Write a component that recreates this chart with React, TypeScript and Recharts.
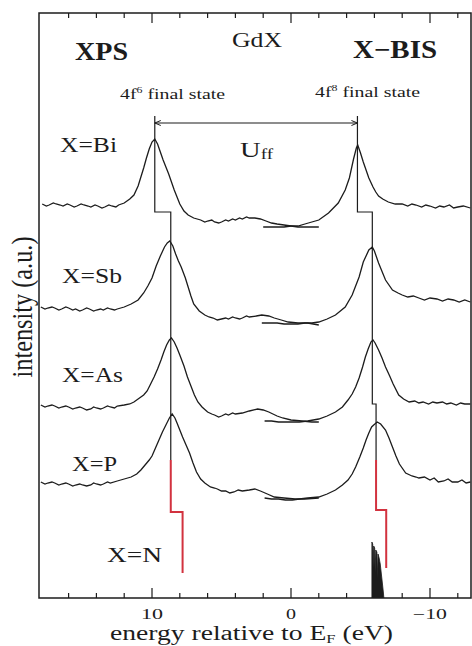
import React from "react";
import { ComposedChart, Line, Area, XAxis, YAxis, ReferenceArea } from "recharts";

type P = [number, number];

const energyDomain: [number, number] = [-12.95, 18.13];
const energyTicks = [-12, -10, -8, -6, -4, -2, 0, 2, 4, 6, 8, 10, 12, 14, 16];
const tickLabels: Record<string, string> = { "10": "10", "0": "0", "-10": "−10" };
const intensityDomain: [number, number] = [0, 585];

const biXps: P[] = [
  [17.9, 394], [17.6, 392], [17.4, 393], [17.1, 395], [16.9, 394], [16.6, 393], [16.4, 392], [16.1, 394], [15.9, 393],
  [15.6, 391], [15.4, 392], [15.1, 394], [14.9, 393], [14.6, 392], [14.4, 391], [14.1, 393], [13.9, 392], [13.6, 390],
  [13.4, 391], [13.1, 393], [12.9, 392], [12.6, 391], [12.4, 393], [12.0, 395], [11.6, 399], [11.3, 403], [11.0, 412],
  [10.8, 421], [10.6, 430], [10.4, 440], [10.2, 449], [10.0, 456], [9.8, 459], [9.6, 454], [9.4, 446],
  [9.2, 438], [9.0, 431], [8.8, 424], [8.6, 416], [8.4, 408], [8.2, 401], [8.0, 394], [7.7, 387],
  [7.4, 383], [7.0, 380], [6.5, 378], [6.2, 376], [6.0, 377], [5.7, 378], [5.5, 376], [5.2, 375], [5.0, 376],
  [4.7, 378], [4.5, 377], [4.2, 379], [4.0, 378], [3.7, 380], [3.5, 379], [3.2, 381], [3.0, 380], [2.6, 380],
  [2.2, 379], [1.8, 377], [1.4, 375], [1.0, 374], [0.5, 373], [0.0, 372], [-0.5, 371], [-1.0, 371], [-1.5, 371], [-2.0, 371],
];
const biBis: P[] = [
  [2.0, 371], [1.5, 371], [1.0, 371], [0.5, 371], [0.0, 372], [-0.5, 372], [-1.0, 374], [-1.5, 376],
  [-2.0, 378], [-2.7, 385], [-3.4, 395], [-3.9, 408], [-4.2, 420], [-4.5, 439], [-4.7, 450], [-4.8, 453],
  [-5.0, 445], [-5.2, 436], [-5.4, 428], [-5.6, 420], [-5.9, 411], [-6.1, 406], [-6.3, 402], [-6.6, 399],
  [-7.0, 396], [-7.5, 394], [-8.0, 394], [-8.4, 392], [-8.7, 394], [-9.0, 393], [-9.4, 391], [-9.7, 393],
  [-10.0, 392], [-10.4, 390], [-10.7, 392], [-11.0, 391], [-11.4, 393], [-11.7, 390], [-12.0, 391], [-12.4, 392], [-12.9, 390],
];
const sbXps: P[] = [
  [18.0, 291], [17.7, 289], [17.5, 290], [17.2, 291], [17.0, 290], [16.7, 288], [16.5, 289], [16.2, 291], [16.0, 290],
  [15.7, 288], [15.5, 289], [15.2, 287], [15.0, 288], [14.7, 290], [14.5, 289], [14.2, 287], [14.0, 288], [13.7, 289],
  [13.5, 288], [13.2, 290], [13.0, 289], [12.7, 288], [12.5, 289], [12.0, 291], [11.5, 294], [11.0, 298], [10.6, 305],
  [10.3, 312], [10.0, 320], [9.7, 332], [9.4, 342], [9.1, 351], [8.9, 355], [8.72, 357], [8.5, 352],
  [8.3, 344], [8.1, 337], [7.9, 331], [7.6, 320], [7.4, 311], [7.2, 302], [7.0, 294], [6.6, 287],
  [6.2, 283], [5.9, 281], [5.6, 280], [5.3, 278], [5.0, 279], [4.7, 280], [4.5, 279], [4.2, 281], [4.0, 280],
  [3.7, 279], [3.5, 280], [3.2, 282], [3.0, 281], [2.5, 282], [2.1, 283], [1.6, 282], [1.2, 280], [0.7, 278],
  [0.2, 276], [-0.5, 275], [-1.2, 275], [-2.0, 273],
];
const sbBis: P[] = [
  [2.1, 275], [1.5, 275], [1.0, 275], [0.5, 274], [0.0, 274], [-0.5, 274], [-1.0, 275], [-1.5, 275],
  [-2.0, 276], [-2.6, 279], [-3.2, 283], [-3.9, 291], [-4.4, 303], [-4.9, 321], [-5.2, 336], [-5.6, 348],
  [-5.85, 351], [-6.0, 347], [-6.3, 335], [-6.8, 318], [-7.3, 308], [-7.7, 305], [-8.0, 303], [-8.4, 301],
  [-8.8, 302], [-9.2, 300], [-9.6, 298], [-10.0, 300], [-10.5, 299], [-10.9, 297], [-11.3, 299], [-11.7, 298],
  [-12.1, 296], [-12.5, 298], [-12.9, 296],
];
const asXps: P[] = [
  [18.0, 193], [17.7, 191], [17.5, 192], [17.2, 193], [17.0, 192], [16.7, 190], [16.5, 191], [16.2, 192], [16.0, 191],
  [15.7, 189], [15.5, 190], [15.2, 191], [15.0, 190], [14.7, 188], [14.4, 189], [14.2, 191], [14.0, 190], [13.7, 189],
  [13.5, 190], [13.2, 192], [13.0, 191], [12.7, 190], [12.5, 192], [12.0, 193], [11.6, 194], [11.3, 196], [10.9, 200],
  [10.6, 203], [10.35, 207], [10.1, 214], [9.85, 221], [9.6, 229], [9.35, 238], [9.15, 246], [8.95, 253],
  [8.75, 258], [8.6, 260], [8.4, 256], [8.2, 250], [8.0, 243], [7.7, 232], [7.45, 221], [7.2, 212],
  [6.95, 203], [6.7, 196], [6.4, 191], [6.0, 186], [5.7, 184], [5.5, 183], [5.2, 181], [5.0, 182], [4.7, 184],
  [4.5, 183], [4.2, 185], [4.0, 184], [3.5, 185], [3.0, 187], [2.4, 189], [2.0, 188], [1.6, 186], [1.0, 182],
  [0.6, 180], [0.0, 178], [-0.8, 177], [-1.5, 176], [-2.0, 176],
];
const asBis: P[] = [
  [1.9, 177], [1.4, 177], [0.9, 176], [0.4, 176], [-0.1, 176], [-0.6, 176], [-1.2, 177], [-2.0, 179],
  [-2.6, 182], [-3.2, 186], [-3.7, 191], [-4.1, 198], [-4.4, 204], [-4.65, 211], [-4.9, 220], [-5.15, 231],
  [-5.35, 241], [-5.55, 249], [-5.75, 256], [-5.9, 258], [-6.05, 255], [-6.3, 248], [-6.55, 240], [-6.8, 231],
  [-7.1, 222], [-7.35, 214], [-7.75, 203], [-8.1, 199], [-8.5, 196], [-8.9, 197], [-9.2, 195], [-9.5, 196],
  [-9.9, 194], [-10.2, 196], [-10.5, 195], [-10.9, 196], [-11.2, 194], [-11.5, 195], [-11.9, 193], [-12.2, 195],
  [-12.5, 194], [-12.9, 194],
];
const pXps: P[] = [
  [18.0, 116], [17.7, 114], [17.5, 115], [17.2, 116], [17.0, 115], [16.7, 113], [16.5, 114], [16.2, 115], [16.0, 114],
  [15.7, 112], [15.5, 113], [15.2, 114], [15.0, 113], [14.7, 112], [14.4, 113], [14.2, 115], [14.0, 114], [13.7, 113],
  [13.5, 114], [13.2, 116], [13.0, 115], [12.5, 117], [12.0, 119], [11.5, 121], [11.1, 124], [10.8, 128],
  [10.5, 133], [10.2, 138], [10.0, 142], [9.75, 150], [9.5, 158], [9.25, 166], [9.0, 173], [8.75, 180],
  [8.55, 184], [8.35, 180], [8.2, 175], [8.0, 168], [7.8, 161], [7.55, 153], [7.3, 145], [7.05, 135],
  [6.8, 126], [6.5, 119], [6.2, 115], [5.8, 111], [5.5, 110], [5.3, 109], [5.0, 107], [4.7, 107], [4.4, 105],
  [4.1, 106], [3.8, 108], [3.5, 107], [3.0, 108], [2.6, 109], [2.2, 107], [1.7, 104], [1.2, 101], [0.5, 100],
  [-0.3, 99], [-1.0, 99], [-2.0, 100],
];
const pBis: P[] = [
  [1.9, 100], [1.4, 99], [0.9, 99], [0.4, 98], [-0.1, 98], [-0.6, 99], [-1.2, 100], [-2.0, 101],
  [-2.6, 104], [-3.2, 108], [-3.7, 113], [-4.1, 118], [-4.4, 124], [-4.65, 131], [-4.95, 141], [-5.2, 150],
  [-5.4, 158], [-5.6, 165], [-5.8, 171], [-5.95, 173], [-6.2, 176], [-6.45, 174], [-6.8, 168], [-7.05, 160],
  [-7.3, 151], [-7.55, 142], [-7.8, 134], [-8.25, 125], [-8.7, 122], [-9.0, 121], [-9.2, 120], [-9.6, 121],
  [-10.0, 118], [-10.3, 120], [-10.6, 116], [-11.0, 117], [-11.3, 119], [-11.6, 116], [-12.0, 116], [-12.3, 118],
  [-12.6, 115], [-12.9, 116],
];

const stepLeftBlack: P[] = [[9.8, 482], [9.8, 386], [8.65, 386], [8.65, 138]];
const stepLeftRed: P[] = [[8.65, 138], [8.65, 86], [7.8, 86], [7.8, 25]];
const stepRightBlack: P[] = [[-4.78, 482], [-4.78, 386], [-5.85, 386], [-5.85, 194], [-6.12, 194], [-6.12, 138]];
const stepRightRed: P[] = [[-6.12, 138], [-6.12, 88], [-6.85, 88], [-6.85, 30]];
const uffArrow: P[] = [[9.8, 475], [-4.78, 475]];
const dosN: P[] = [
  [-5.82, 0], [-5.82, 56], [-5.88, 54], [-5.9, 30], [-5.95, 52], [-6.02, 50], [-6.05, 26], [-6.1, 48],
  [-6.18, 46], [-6.2, 20], [-6.26, 44], [-6.34, 40], [-6.42, 34], [-6.5, 24], [-6.58, 14], [-6.65, 5], [-6.68, 0],
];

const spectra = [biXps, biBis, sbXps, sbBis, asXps, asBis, pXps, pBis];

const toRows = (arr: P[]) => arr.map(([e, v]) => ({ e, v }));

const FONT = "'Liberation Serif', 'DejaVu Serif', serif";
const INK = "#1c1c1c";
const RED = "#d2323f";
const PLOT_H = 585;

const EnergyTick = (props: any) => {
  const { x, y, payload } = props;
  const val = payload.value;
  const major = val % 10 === 0;
  const len = major ? 10 : 5;
  const top = y - PLOT_H;
  const label = tickLabels[String(val)];
  const lenText = val === -10 ? 34 : val === 10 ? 22 : 10;
  return (
    <g>
      <line x1={x} y1={y} x2={x} y2={y - len} stroke={INK} strokeWidth={1.2} />
      <line x1={x} y1={top} x2={x} y2={top + len} stroke={INK} strokeWidth={1.2} />
      {major && label ? (
        <text x={x} y={y + 20.5} textAnchor="middle" fontFamily={FONT} fontSize={14} fill={INK}
          textLength={lenText} lengthAdjust="spacingAndGlyphs">{label}</text>
      ) : null}
    </g>
  );
};

const ArrowDot = (props: any) => {
  const { cx, cy, index } = props;
  const d = index === 0 ? 1 : -1;
  return (
    <path key={`arr-${index}`} d={`M${cx + d * 6},${cy - 2.5} L${cx},${cy} L${cx + d * 6},${cy + 2.5}`}
      fill="none" stroke={INK} strokeWidth={1} />
  );
};

const T = (p: { x: number; y: number; size: number; len: number; bold?: boolean; children: React.ReactNode }) => (
  <text x={p.x} y={p.y} fontFamily={FONT} fontSize={p.size} fill={INK} textLength={p.len}
    fontWeight={p.bold ? 700 : 400} lengthAdjust="spacingAndGlyphs">{p.children}</text>
);

export default function App() {
  return (
    <div style={{ width: 472, height: 646 }}>
      <style>{`body { margin: 0; } svg.recharts-surface { overflow: visible; }`}</style>
      <ComposedChart width={472} height={646} margin={{ top: 13, right: 1, bottom: 0, left: 39 }}>
        <XAxis type="number" dataKey="e" domain={energyDomain} reversed allowDataOverflow ticks={energyTicks}
          interval={0} height={48} axisLine={false} tickLine={false} tickSize={0} tickMargin={0} tick={<EnergyTick />} />
        <YAxis type="number" dataKey="v" domain={intensityDomain} hide allowDataOverflow />
        <ReferenceArea x1={energyDomain[1]} x2={energyDomain[0]} y1={0} y2={585} fill="none" fillOpacity={0}
          stroke={INK} strokeWidth={1.5} />
        <Area data={toRows(dosN)} dataKey="v" type="linear" stroke={INK} strokeWidth={0.8} fill={INK}
          fillOpacity={1} baseValue={0} isAnimationActive={false} />
        {spectra.map((s, i) => (
          <Line key={`s${i}`} data={toRows(s)} dataKey="v" type="linear" stroke={INK} strokeWidth={1.3}
            dot={false} activeDot={false} isAnimationActive={false} />
        ))}
        <Line data={toRows(stepLeftBlack)} dataKey="v" type="linear" stroke={INK} strokeWidth={1.2} dot={false} isAnimationActive={false} />
        <Line data={toRows(stepRightBlack)} dataKey="v" type="linear" stroke={INK} strokeWidth={1.2} dot={false} isAnimationActive={false} />
        <Line data={toRows(stepLeftRed)} dataKey="v" type="linear" stroke={RED} strokeWidth={2} dot={false} isAnimationActive={false} />
        <Line data={toRows(stepRightRed)} dataKey="v" type="linear" stroke={RED} strokeWidth={2} dot={false} isAnimationActive={false} />
        <Line data={toRows(uffArrow)} dataKey="v" type="linear" stroke={INK} strokeWidth={1.1} dot={<ArrowDot />} isAnimationActive={false} />

        <T x={75} y={60} size={25} len={53} bold>XPS</T>
        <T x={232} y={47} size={20} len={50}>GdX</T>
        <T x={353} y={58} size={25} len={84} bold>X−BIS</T>
        <text x={120} y={99} fontFamily={FONT} fontSize={15} fill={INK} textLength={105} lengthAdjust="spacingAndGlyphs">
          4f<tspan dy={-6} fontSize={9}>6</tspan><tspan dy={6}>  final  state</tspan>
        </text>
        <text x={315} y={97} fontFamily={FONT} fontSize={15} fill={INK} textLength={105} lengthAdjust="spacingAndGlyphs">
          4f<tspan dy={-6} fontSize={9}>8</tspan><tspan dy={6}>  final  state</tspan>
        </text>
        <T x={60} y={152} size={20.5} len={57}>X=Bi</T>
        <text x={240} y={157} fontFamily={FONT} fontSize={21} fill={INK} textLength={33} lengthAdjust="spacingAndGlyphs">
          U<tspan dy={2} fontSize={14}>ff</tspan>
        </text>
        <T x={62} y={283} size={20.5} len={60}>X=Sb</T>
        <T x={62} y={382} size={20.5} len={61}>X=As</T>
        <T x={72} y={471} size={20.5} len={45}>X=P</T>
        <T x={107} y={562} size={20.5} len={55}>X=N</T>
        <text x={110} y={640} fontFamily={FONT} fontSize={20} fill={INK} textLength={283} lengthAdjust="spacingAndGlyphs">
          energy  relative  to  E<tspan dy={3} fontSize={12}>F</tspan><tspan dy={-3}>  (eV)</tspan>
        </text>
        <text transform="translate(31.5,307) rotate(-90) scale(1,1.25)" x={0} y={0} textAnchor="middle"
          fontFamily={FONT} fontSize={23} fill={INK} textLength={141} lengthAdjust="spacingAndGlyphs">
          intensity (a.u.)
        </text>
      </ComposedChart>
    </div>
  );
}
